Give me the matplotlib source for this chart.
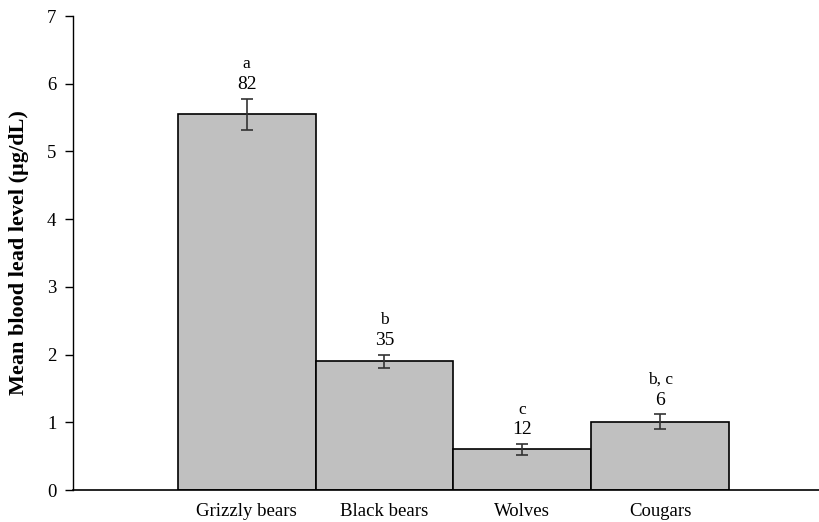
import numpy as np
import matplotlib.pyplot as plt

# mean blood lead level per species, with SE, sample size and group letter
species = ['Grizzly bears', 'Black bears', 'Wolves', 'Cougars']
mean_pb = [5.55, 1.90, 0.60, 1.01]
se_pb = [0.23, 0.10, 0.08, 0.11]
n_samples = ['82', '35', '12', '6']
groups = ['a', 'b', 'c', 'b, c']

plt.rcParams['font.family'] = ['Liberation Serif', 'DejaVu Serif']

fig = plt.figure(figsize=(8.2, 5.22), dpi=100)
ax = fig.add_axes([0.089, 0.0613, 0.911, 0.908])

x = np.arange(len(species))
ax.bar(x, mean_pb, width=1.0, color='#c0c0c0', edgecolor='black', linewidth=1.2)
ax.errorbar(x, mean_pb, yerr=se_pb, fmt='none', ecolor='#333333',
            elinewidth=1.2, capsize=4, capthick=1.2)

for xi, m, e, n, g in zip(x, mean_pb, se_pb, n_samples, groups):
    ax.annotate(n, (xi, m + e), xytext=(0, 4), textcoords='offset points',
                ha='center', va='bottom', fontsize=14)
    ax.annotate(g, (xi, m + e), xytext=(0, 19), textcoords='offset points',
                ha='center', va='bottom', fontsize=12.5)

ax.set_xlim(-1.26, 4.16)
ax.set_ylim(0, 7)
ax.set_yticks(range(8))
ax.set_xticks(x)
ax.set_xticklabels(species)
ax.tick_params(axis='x', length=0, labelsize=13.5, pad=9)
ax.tick_params(axis='y', direction='out', length=6, labelsize=13.5, width=1,
               pad=6)
ax.set_ylabel('Mean blood lead level (\u00b5g/dL)', fontsize=16,
              fontweight='bold')
ax.yaxis.set_label_coords(-0.059, 0.5)

for pos in ['top', 'right']:
    ax.spines[pos].set_visible(False)
ax.spines['left'].set_linewidth(1.0)
ax.spines['bottom'].set_linewidth(1.2)

fig.savefig('out.png', dpi=100)
